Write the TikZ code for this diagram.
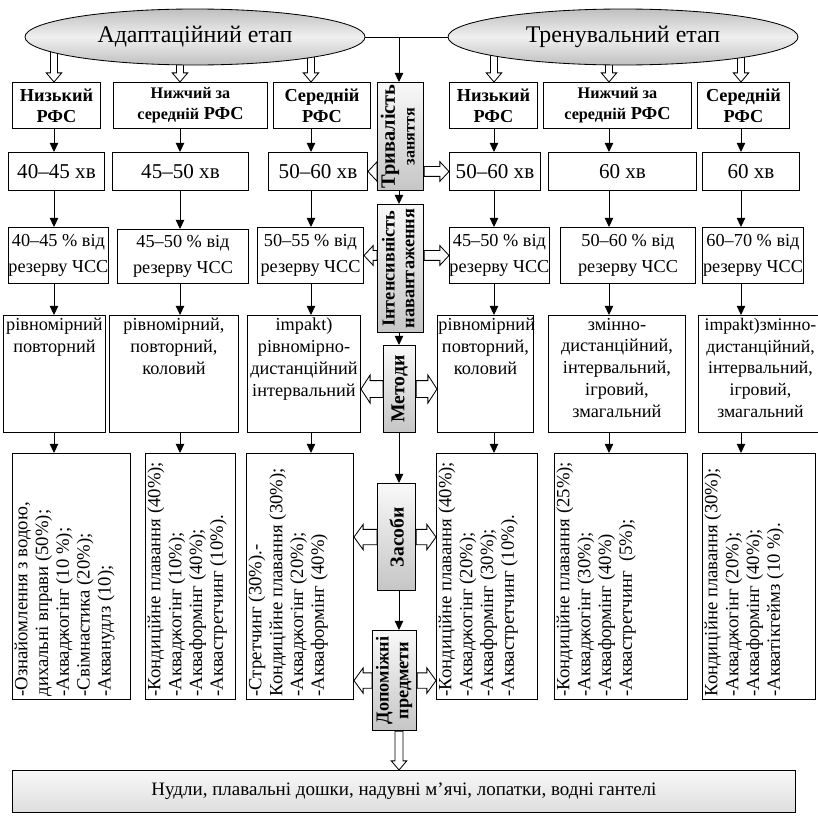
\documentclass[tikz,border=0pt]{standalone}
\usepackage{fontspec}
\setmainfont{Liberation Serif}
\usepackage{graphicx}
\usetikzlibrary{arrows.meta,shapes.geometric,calc,backgrounds}

\newlength{\pu}
\setlength{\pu}{0.025cm}

\tikzset{
  box/.style={draw, line width=0.7pt, fill=white, inner sep=0pt, anchor=north west, align=center, font=\fontsize{13}{15.5}\selectfont},
  rfs/.style={font=\bfseries\fontsize{13}{15}\selectfont},
  mins/.style={font=\fontsize{15}{17}\selectfont},
  pct/.style={font=\fontsize{13}{19}\selectfont},
  wh/.style 2 args={minimum width=#1*\pu, minimum height=#2*\pu},
  stage/.style={ellipse, draw, line width=0.6pt, top color=gray!50, bottom color=gray!50, middle color=gray!12, inner sep=0pt, font=\fontsize{17}{20}\selectfont},
  midbox/.style={draw, line width=0.8pt, top color=gray!5, bottom color=gray!45, inner sep=0pt, anchor=north west, font=\bfseries\fontsize{13}{14}\selectfont},
  hollow/.style={draw, fill=white, line width=0.6pt},
  link/.style={line width=0.7pt, -{Triangle[length=6.5pt,width=6pt]}},
}

% Methoden (oben ausgerichtet) und Mittel (gedreht)
\newcommand{\methlist}[2]{\parbox[c][112\pu][t]{#1\pu}{\centering #2}}
\newcommand{\meanslist}[2]{\rotatebox{90}{\parbox[c][#1\pu][t]{240\pu}{\raggedright\fontsize{13.3}{14.8}\selectfont #2}}}

% hohler Pfeil: #1 Schaft-, #2 Kopfbreite (halb, pt), #3 Anfang, #4 Spitze
\newcommand{\hollowarrow}[4]{%
  \filldraw[hollow] let \p1=(#3), \p2=(#4),
    \n1={veclen(\x2-\x1,\y2-\y1)}, \n2={(\x2-\x1)/\n1}, \n3={(\y2-\y1)/\n1} in
    ({\x1-(\n3)*#1pt},{\y1+(\n2)*#1pt})
    -- ({\x2-(\n2)*6.5pt-(\n3)*#1pt},{\y2-(\n3)*6.5pt+(\n2)*#1pt})
    -- ({\x2-(\n2)*6.5pt-(\n3)*#2pt},{\y2-(\n3)*6.5pt+(\n2)*#2pt})
    -- (\p2)
    -- ({\x2-(\n2)*6.5pt+(\n3)*#2pt},{\y2-(\n3)*6.5pt-(\n2)*#2pt})
    -- ({\x2-(\n2)*6.5pt+(\n3)*#1pt},{\y2-(\n3)*6.5pt-(\n2)*#1pt})
    -- ({\x1+(\n3)*#1pt},{\y1-(\n2)*#1pt}) -- cycle;}

\begin{document}
\begin{tikzpicture}[x=0.025cm, y=-0.025cm]
  \useasboundingbox (0,0) rectangle (818,816);
  % Etappen
  \node[stage, wh={340}{56}] (adapt) at (195,37) {Адаптаційний етап};
  \node[stage, wh={350}{56}] (train) at (623,37) {Тренувальний етап};
  % Spalten
  \coordinate (c1) at (54,0);
  \coordinate (c2) at (180,0);
  \coordinate (c3) at (311,0);
  \coordinate (c4) at (494,0);
  \coordinate (c5) at (609,0);
  \coordinate (c6) at (741,0);
  \coordinate (cm) at (399,0);
  % Stufe RFS
  \node[box, rfs, wh={88}{46}] (l1a) at (12,82) {Низький\\РФС};
  \node[box, rfs, wh={154}{46}] (l2a) at (113,82) {{\fontsize{11.5}{13}\selectfont Нижчий за}\\{\fontsize{11.5}{13}\selectfont середній} РФС};
  \node[box, rfs, wh={97}{46}] (l3a) at (273,82) {Середній\\РФС};
  \node[box, rfs, wh={88}{46}] (r1a) at (449,82) {Низький\\РФС};
  \node[box, rfs, wh={148}{46}] (r2a) at (543,82) {{\fontsize{11.5}{13}\selectfont Нижчий за}\\{\fontsize{11.5}{13}\selectfont середній} РФС};
  \node[box, rfs, wh={92}{46}] (r3a) at (697,82) {Середній\\РФС};
  % Dauer
  \node[box, mins, wh={96}{38}] (l1b) at (8,152) {40–45 хв};
  \node[box, mins, wh={136}{38}] (l2b) at (112,152) {45–50 хв};
  \node[box, mins, wh={99}{38}] (l3b) at (268,152) {50–60 хв};
  \node[box, mins, wh={91}{38}] (r1b) at (449,152) {50–60 хв};
  \node[box, mins, wh={148}{38}] (r2b) at (548,152) {60 хв};
  \node[box, mins, wh={97}{38}] (r3b) at (702,152) {60 хв};
  % Intensitaet
  \node[box, pct, wh={98}{56}] (l1c) at (8,227) {40–45 \% від\\резерву ЧСС};
  \node[box, pct, wh={131}{54}] (l2c) at (117,229) {45–50 \% від\\резерву ЧСС};
  \node[box, pct, wh={106}{56}] (l3c) at (257,227) {50–55 \% від\\резерву ЧСС};
  \node[box, pct, wh={96}{56}] (r1c) at (449,227) {45–50 \% від\\резерву ЧСС};
  \node[box, pct, wh={135}{56}] (r2c) at (560,227) {50–60 \% від\\резерву ЧСС};
  \node[box, pct, wh={101}{56}] (r3c) at (702,227) {60–70 \% від\\резерву ЧСС};
  % Methoden
  \node[box, wh={102}{117}] (l1d) at (3,315) {\methlist{100}{рівномірний\\повторний}};
  \node[box, wh={129}{117}] (l2d) at (109,315) {\methlist{125}{рівномірний,\\повторний,\\коловий}};
  \node[box, wh={113}{117}] (l3d) at (247,315) {\methlist{111}{impakt)\\рівномірно-\\дистанційний\\інтервальний}};
  \node[box, wh={96}{117}] (r1d) at (437,315) {\methlist{94}{рівномірний\\повторний,\\коловий}};
  \node[box, wh={137}{117}] (r2d) at (548,315) {\methlist{133}{змінно-\\дистанційний,\\інтервальний,\\ігровий,\\змагальний}};
  \node[box, wh={124}{117}, font=\fontsize{12.6}{15.5}\selectfont] (r3d) at (698,315) {\methlist{118}{impakt)змінно-\\дистанційний,\\інтервальний,\\ігровий,\\змагальний}};
  % Mittel
  \node[box, wh={118}{246}] (l1e) at (12,453) {\meanslist{114}{-Ознайомлення з водою,\\дихальні вправи (50\%);\\-Акваджогінг (10 \%);\\-Свімнастика (20\%);\\-Акванудлз (10);}};
  \node[box, wh={90}{246}] (l2e) at (145,453) {\meanslist{86}{-Кондиційне плавання (40\%);\\-Акваджогінг (10\%);\\-Акваформінг (40\%);\\-Аквастретчинг (10\%).}};
  \node[box, wh={107}{246}] (l3e) at (246,453) {\meanslist{103}{-Стретчинг (30\%).-\\Кондиційне плавання (30\%);\\-Акваджогінг (20\%);\\-Акваформінг (40\%)}};
  \node[box, wh={101}{246}] (r1e) at (436,453) {\meanslist{97}{-Кондиційне плавання (40\%);\\-Акваджогінг (20\%);\\-Акваформінг (30\%);\\-Аквастретчинг (10\%).}};
  \node[box, wh={133}{246}] (r2e) at (554,453) {\meanslist{129}{-Кондиційне плавання (25\%);\\-Акваджогінг (30\%);\\-Акваформінг (40\%)\\-Аквастретчинг\ \ (5\%);}};
  \node[box, wh={113}{246}] (r3e) at (702,453) {\meanslist{109}{Кондиційне плавання (30\%);\\-Акваджогінг (20\%);\\-Акваформінг (40\%);\\-Акватікгеймз (10 \%).}};
  % Mittelspalte
  \node[midbox, wh={46}{108}] (dur) at (377,82) {\rotatebox{90}{\begin{tabular}{@{}c@{}}{\fontsize{14.5}{15}\selectfont Тривалість}\\{\fontsize{11.5}{12}\selectfont заняття}\end{tabular}}};
  \node[midbox, wh={46}{128}] (load) at (377,204) {\rotatebox{90}{\begin{tabular}{@{}c@{}}Інтенсивність\\навантаження\end{tabular}}};
  \node[midbox, wh={32}{87}, font=\bfseries\fontsize{14}{15}\selectfont] (meth) at (383,345) {\rotatebox{90}{Методи}};
  \node[midbox, wh={38}{107}, font=\bfseries\fontsize{14}{15}\selectfont] (means) at (377,483) {\rotatebox{90}{Засоби}};
  \node[midbox, wh={44}{100}] (aux) at (372,630) {\rotatebox{90}{\begin{tabular}{@{}c@{}}Допоміжні\\предмети\end{tabular}}};
  \node[box, wh={783}{42}, top color=gray!6, bottom color=gray!26, font=\fontsize{13.5}{16}\selectfont] (items) at (12,770) {Нудли, плавальні дошки, надувні м'ячі, лопатки, водні гантелі};
  % Verbindungen
  \draw[line width=0.7pt] (adapt.east) -- (train.west);
  \draw[link] (adapt.east -| cm) -- (dur.north -| cm);
  \draw[link] (dur.south -| cm) -- (load.north -| cm);
  \draw[link] (load.south -| cm) -- (meth.north -| cm);
  \draw[link] (meth.south -| cm) -- (means.north -| cm);
  \draw[link] (means.south -| cm) -- (aux.north -| cm);
  \draw[link] (l1a.south -| c1) -- (l1b.north -| c1);
  \draw[link] (l1b.south -| c1) -- (l1c.north -| c1);
  \draw[link] (l1c.south -| c1) -- (l1d.north -| c1);
  \draw[link] (l1d.south -| c1) -- (l1e.north -| c1);
  \draw[link] (l2a.south -| c2) -- (l2b.north -| c2);
  \draw[link] (l2b.south -| c2) -- (l2c.north -| c2);
  \draw[link] (l2c.south -| c2) -- (l2d.north -| c2);
  \draw[link] (l2d.south -| c2) -- (l2e.north -| c2);
  \draw[link] (l3a.south -| c3) -- (l3b.north -| c3);
  \draw[link] (l3b.south -| c3) -- (l3c.north -| c3);
  \draw[link] (l3c.south -| c3) -- (l3d.north -| c3);
  \draw[link] (l3d.south -| c3) -- (l3e.north -| c3);
  \draw[link] (r1a.south -| c4) -- (r1b.north -| c4);
  \draw[link] (r1b.south -| c4) -- (r1c.north -| c4);
  \draw[link] (r1c.south -| c4) -- (r1d.north -| c4);
  \draw[link] (r1d.south -| c4) -- (r1e.north -| c4);
  \draw[link] (r2a.south -| c5) -- (r2b.north -| c5);
  \draw[link] (r2b.south -| c5) -- (r2c.north -| c5);
  \draw[link] (r2c.south -| c5) -- (r2d.north -| c5);
  \draw[link] (r2d.south -| c5) -- (r2e.north -| c5);
  \draw[link] (r3a.south -| c6) -- (r3b.north -| c6);
  \draw[link] (r3b.south -| c6) -- (r3c.north -| c6);
  \draw[link] (r3c.south -| c6) -- (r3d.north -| c6);
  \draw[link] (r3d.south -| c6) -- (r3e.north -| c6);
  % hohle Pfeile hinter den Knoten
  \begin{pgfonlayer}{background}
    \hollowarrow{2.5}{5.5}{adapt.center -| c1}{l1a.north -| c1}
    \hollowarrow{2.5}{5.5}{adapt.center -| c2}{l2a.north -| c2}
    \hollowarrow{2.5}{5.5}{adapt.center -| c3}{l3a.north -| c3}
    \hollowarrow{2.5}{5.5}{train.center -| c4}{r1a.north -| c4}
    \hollowarrow{2.5}{5.5}{train.center -| c5}{r2a.north -| c5}
    \hollowarrow{2.5}{5.5}{train.center -| c6}{r3a.north -| c6}
    \hollowarrow{3.5}{7}{dur.west |- l3b.east}{l3b.east}
    \hollowarrow{3.5}{7}{dur.east |- r1b.west}{r1b.west}
    \hollowarrow{3.5}{7}{load.west |- l3c.east}{l3c.east}
    \hollowarrow{3.5}{7}{load.east |- r1c.west}{r1c.west}
    \hollowarrow{6}{10}{meth.west}{meth.west -| l3d.east}
    \hollowarrow{6}{10}{meth.east}{meth.east -| r1d.west}
    \hollowarrow{5.5}{9}{means.west}{means.west -| l3e.east}
    \hollowarrow{5.5}{9}{means.east}{means.east -| r1e.west}
    \hollowarrow{5.5}{9}{aux.west}{aux.west -| l3e.east}
    \hollowarrow{5.5}{9}{aux.east}{aux.east -| r1e.west}
    \hollowarrow{2.8}{5.5}{aux.south -| cm}{items.north -| cm}
  \end{pgfonlayer}
\end{tikzpicture}
\end{document}
